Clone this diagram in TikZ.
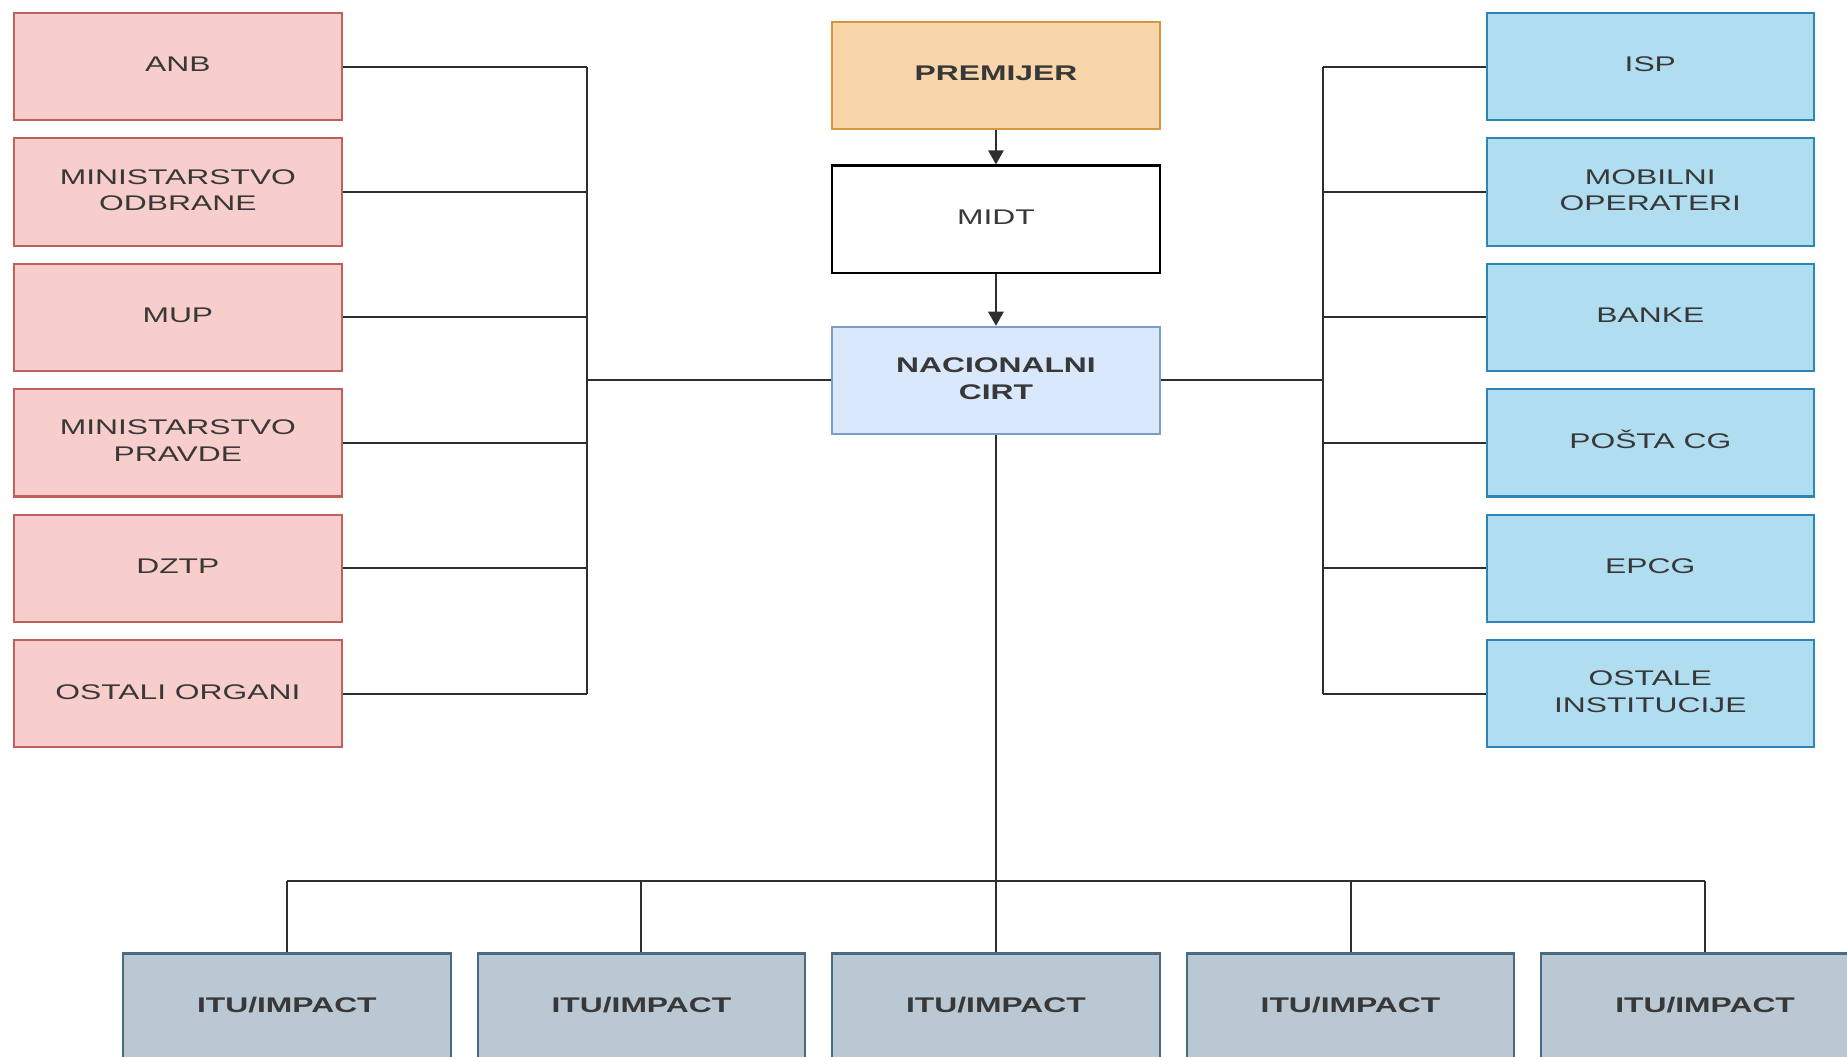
\documentclass[tikz,border=0pt]{standalone}
\usepackage{fontspec}
\setmainfont{Liberation Sans}
\usepackage{graphicx}
\usetikzlibrary{arrows.meta,calc}
\definecolor{pinkfill}{HTML}{F8CECC}
\definecolor{pinkdraw}{HTML}{C0605C}
\definecolor{orangefill}{HTML}{F9D6AA}
\definecolor{orangedraw}{HTML}{D6963F}
\definecolor{cirtfill}{HTML}{DAE8FC}
\definecolor{cirtdraw}{HTML}{7C9CCB}
\definecolor{bluefill}{HTML}{B1DDF0}
\definecolor{bluedraw}{HTML}{2D86B5}
\definecolor{itufill}{HTML}{BAC8D3}
\definecolor{itudraw}{HTML}{4A6A82}
\definecolor{txtgray}{HTML}{383838}
\definecolor{linegray}{HTML}{2E2E2E}
\newcommand\wtxt[1]{\scalebox{1.5}[1]{\begin{tabular}{@{}c@{}}#1\end{tabular}}}
\begin{document}
\begin{tikzpicture}[x=0.5pt,y=-0.5pt,
  boxstyle/.style={draw, line width=0.9pt, minimum width=139pt, minimum height=45.5pt, inner sep=0pt,
    font=\fontsize{9}{11.3}\selectfont, text=txtgray},
  pinkbox/.style={boxstyle, fill=pinkfill, draw=pinkdraw},
  bluebox/.style={boxstyle, fill=bluefill, draw=bluedraw},
  orangebox/.style={boxstyle, fill=orangefill, draw=orangedraw},
  whitebox/.style={boxstyle, fill=white, draw=black},
  cirtbox/.style={boxstyle, fill=cirtfill, draw=cirtdraw},
  itubox/.style={boxstyle, fill=itufill, draw=itudraw},
  conn/.style={draw=linegray, line width=0.85pt},
  arr/.style={conn, -{Triangle[width=6.5pt,length=6pt]}}
]
\useasboundingbox (0,0) rectangle (1568,897);
\clip (0,0) rectangle (1568,897);
\fill[white] (0,0) rectangle (1568,897);

% left column
\node[pinkbox] (anb) at (151,56.5) {\wtxt{ANB}};
\node[pinkbox] (odb) at (151,163) {\wtxt{MINISTARSTVO\\ODBRANE}};
\node[pinkbox] (mup) at (151,269.5) {\wtxt{MUP}};
\node[pinkbox] (pra) at (151,376) {\wtxt{MINISTARSTVO\\PRAVDE}};
\node[pinkbox] (dztp) at (151,482.5) {\wtxt{DZTP}};
\node[pinkbox] (ost) at (151,589) {\wtxt{OSTALI ORGANI}};

% right column
\node[bluebox] (isp) at (1401,56.5) {\wtxt{ISP}};
\node[bluebox] (mob) at (1401,163) {\wtxt{MOBILNI\\OPERATERI}};
\node[bluebox] (ban) at (1401,269.5) {\wtxt{BANKE}};
\node[bluebox] (pos) at (1401,376) {\wtxt{POŠTA CG}};
\node[bluebox] (epcg) at (1401,482.5) {\wtxt{EPCG}};
\node[bluebox] (osti) at (1401,589) {\wtxt{OSTALE\\INSTITUCIJE}};

% center column
\node[orangebox] (prem) at (845.5,64) {\wtxt{\textbf{PREMIJER}}};
\node[whitebox] (midt) at (845.5,186) {\wtxt{MIDT}};
\node[cirtbox] (cirt) at (845.5,323) {\wtxt{\textbf{NACIONALNI}\\\textbf{CIRT}}};

% bottom row
\node[itubox] (itu1) at (243.5,855) {\wtxt{\textbf{ITU/IMPACT}}};
\node[itubox] (itu2) at (544.5,855) {\wtxt{\textbf{ITU/IMPACT}}};
\node[itubox] (itu3) at (845.5,855) {\wtxt{\textbf{ITU/IMPACT}}};
\node[itubox] (itu4) at (1146.5,855) {\wtxt{\textbf{ITU/IMPACT}}};
\node[itubox] (itu5) at (1447.5,855) {\wtxt{\textbf{ITU/IMPACT}}};

% bus coordinates
\coordinate (lbus) at (498,323);
\coordinate (rbus) at (1123,323);
\coordinate (bbus) at (845.5,748);

% arrows
\draw[arr] (prem.south) -- (midt.north);
\draw[arr] (midt.south) -- (cirt.north);

% left bus
\draw[conn] (cirt.west) -- (lbus);
\draw[conn] (anb.east -| lbus) -- (ost.east -| lbus);
\foreach \n in {anb,odb,mup,pra,dztp,ost}{\draw[conn] (\n.east) -- (\n.east -| lbus);}

% right bus
\draw[conn] (cirt.east) -- (rbus);
\draw[conn] (isp.west -| rbus) -- (osti.west -| rbus);
\foreach \n in {isp,mob,ban,pos,epcg,osti}{\draw[conn] (\n.west) -- (\n.west -| rbus);}

% bottom bus
\draw[conn] (cirt.south) -- (itu3.north);
\draw[conn] (itu1.north |- bbus) -- (itu5.north |- bbus);
\foreach \n in {itu1,itu2,itu4,itu5}{\draw[conn] (\n.north) -- (\n.north |- bbus);}
\end{tikzpicture}
\end{document}
